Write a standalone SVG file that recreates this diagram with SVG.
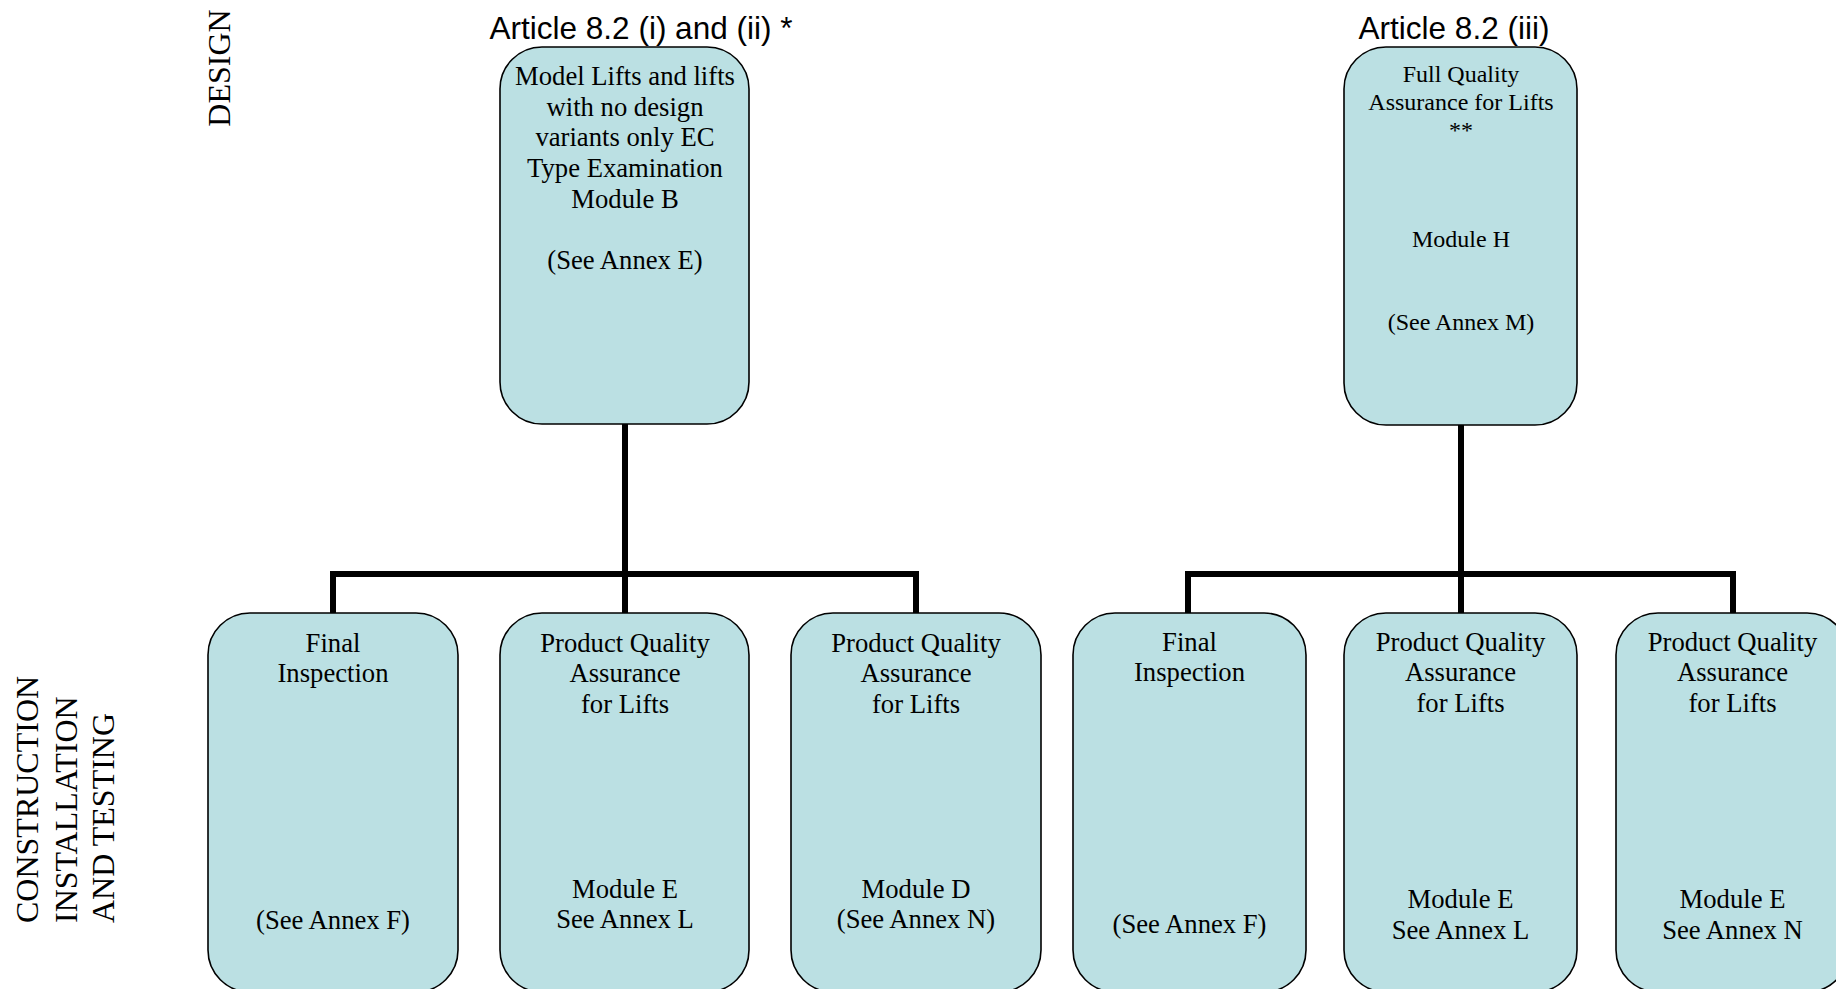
<svg xmlns="http://www.w3.org/2000/svg" width="1836" height="989" viewBox="0 0 1836 989">
<style>
.box{fill:#BBE0E3;stroke:#000;stroke-width:1.6}
.t{font-family:"Liberation Serif","Times New Roman",serif;font-size:26.67px;fill:#000;text-anchor:middle}
.ts{font-family:"Liberation Serif","Times New Roman",serif;font-size:24px;fill:#000;text-anchor:middle}
.h{font-family:"Liberation Sans",Arial,sans-serif;font-size:31.5px;fill:#000;text-anchor:middle}
.side{font-family:"Liberation Serif","Times New Roman",serif;font-size:32px;fill:#000}
.conn{fill:none;stroke:#000;stroke-width:6;stroke-linejoin:miter}
</style>
<rect width="1836" height="989" fill="#fff"/>
<g id="labels">
<text class="side" text-anchor="middle" transform="translate(230,68) rotate(-90)">DESIGN</text>
<text class="side" transform="translate(38,923) rotate(-90)">CONSTRUCTION</text>
<text class="side" transform="translate(77,923) rotate(-90)">INSTALLATION</text>
<text class="side" transform="translate(114,923) rotate(-90)">AND TESTING</text>
<text class="h" x="641" y="39">Article 8.2 (i) and (ii) *</text>
<text class="h" x="1454" y="39">Article 8.2 (iii)</text>
</g>
<g id="connectors">
<path class="conn" d="M625,424 V574 M333,613 V574 H916 V613 M625,574 V613"/>
<path class="conn" d="M1461,425 V574 M1188,613 V574 H1733 V613 M1461,574 V613"/>
</g>
<g id="node-moduleB">
<rect class="box" x="500" y="47" width="249" height="377" rx="42" ry="42"/>
<text class="t" x="625" y="85">Model Lifts and lifts</text>
<text class="t" x="625" y="116">with no design</text>
<text class="t" x="625" y="146">variants only EC</text>
<text class="t" x="625" y="177">Type Examination</text>
<text class="t" x="625" y="208">Module B</text>
<text class="t" x="625" y="269">(See Annex E)</text>
</g>
<g id="node-moduleH">
<rect class="box" x="1344" y="47" width="233" height="378" rx="42" ry="42"/>
<text class="ts" x="1461" y="82">Full Quality</text>
<text class="ts" x="1461" y="110">Assurance for Lifts</text>
<text class="ts" x="1461" y="138">**</text>
<text class="ts" x="1461" y="247">Module H</text>
<text class="ts" x="1461" y="330">(See Annex M)</text>
</g>
<g id="node-finalF-left">
<rect class="box" x="208" y="613" width="250" height="379" rx="42" ry="42"/>
<text class="t" x="333" y="652">Final</text>
<text class="t" x="333" y="682">Inspection</text>
<text class="t" x="333" y="929">(See Annex F)</text>
</g>
<g id="node-moduleE-left">
<rect class="box" x="500" y="613" width="249" height="379" rx="42" ry="42"/>
<text class="t" x="625" y="652">Product Quality</text>
<text class="t" x="625" y="682">Assurance</text>
<text class="t" x="625" y="713">for Lifts</text>
<text class="t" x="625" y="898">Module E</text>
<text class="t" x="625" y="928">See Annex L</text>
</g>
<g id="node-moduleD-left">
<rect class="box" x="791" y="613" width="250" height="379" rx="42" ry="42"/>
<text class="t" x="916" y="652">Product Quality</text>
<text class="t" x="916" y="682">Assurance</text>
<text class="t" x="916" y="713">for Lifts</text>
<text class="t" x="916" y="898">Module D</text>
<text class="t" x="916" y="928">(See Annex N)</text>
</g>
<g id="node-finalF-right">
<rect class="box" x="1073" y="613" width="233" height="379" rx="42" ry="42"/>
<text class="t" x="1189.5" y="651">Final</text>
<text class="t" x="1189.5" y="681">Inspection</text>
<text class="t" x="1189.5" y="933">(See Annex F)</text>
</g>
<g id="node-moduleE-right-L">
<rect class="box" x="1344" y="613" width="233" height="379" rx="42" ry="42"/>
<text class="t" x="1460.5" y="651">Product Quality</text>
<text class="t" x="1460.5" y="681">Assurance</text>
<text class="t" x="1460.5" y="712">for Lifts</text>
<text class="t" x="1460.5" y="908">Module E</text>
<text class="t" x="1460.5" y="939">See Annex L</text>
</g>
<g id="node-moduleE-right-N">
<rect class="box" x="1616" y="613" width="233" height="379" rx="42" ry="42"/>
<text class="t" x="1732.5" y="651">Product Quality</text>
<text class="t" x="1732.5" y="681">Assurance</text>
<text class="t" x="1732.5" y="712">for Lifts</text>
<text class="t" x="1732.5" y="908">Module E</text>
<text class="t" x="1732.5" y="939">See Annex N</text>
</g>
</svg>
